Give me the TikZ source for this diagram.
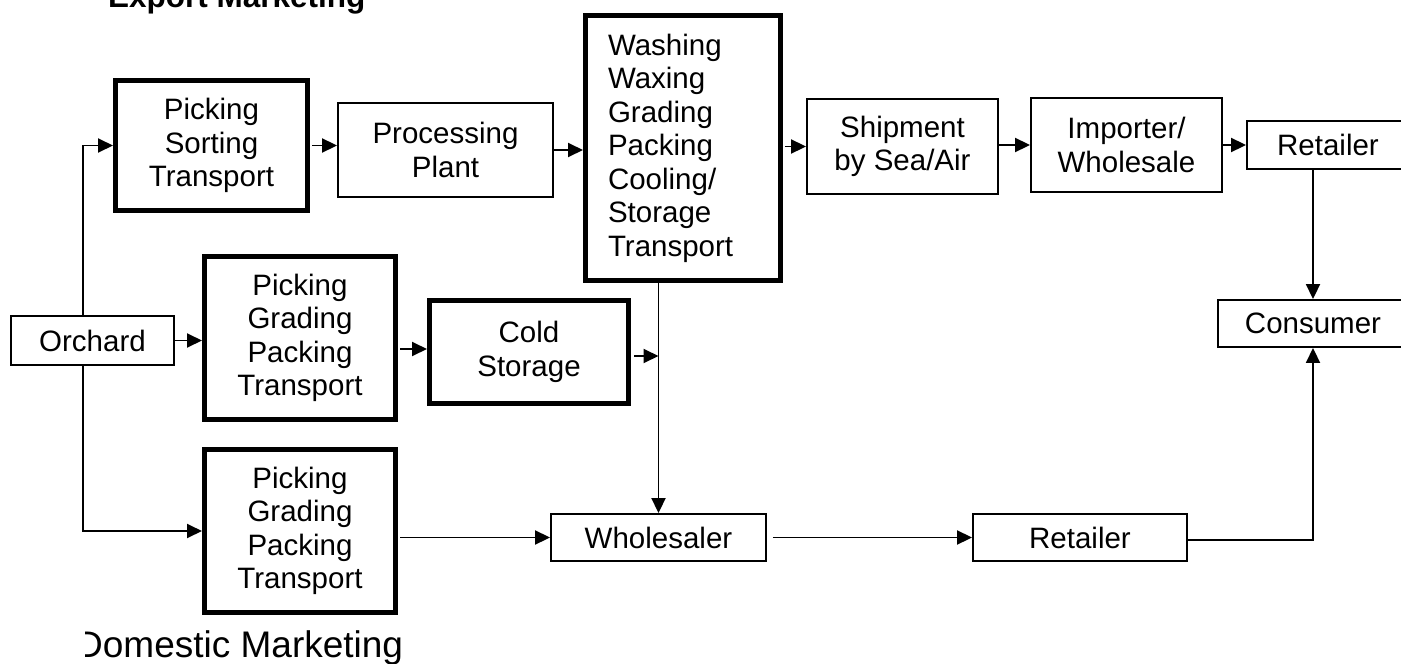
\documentclass[tikz,border=0pt]{standalone}
\usepackage{fontspec}
\setmainfont{Liberation Sans}
\usetikzlibrary{arrows.meta}
\begin{document}
\begin{tikzpicture}[x=1pt,y=-1pt,
  txt/.style={font=\fontsize{29.5}{33.5}\selectfont},
  thinbox/.style={draw, line width=1.9pt, inner sep=0pt, align=center, txt},
  thickbox/.style={draw, line width=5pt, inner sep=0pt, align=center, txt},
  arr/.style={line width=1.9pt, -{Triangle[length=15pt,width=14pt]}},
  ln/.style={line width=1.9pt}]
\useasboundingbox (0,0) rectangle (1401,664);
\clip (0,0) rectangle (1401,664);

% titles
\node[anchor=base west, inner sep=0pt, font=\fontsize{31.5}{36}\selectfont\bfseries] (title) at (108,7) {Export Marketing};
\begin{scope}
  \clip (85,600) rectangle (700,664);
  \node[anchor=base west, inner sep=0pt, font=\fontsize{37}{42}\selectfont] (dom) at (76,657) {Domestic Marketing};
\end{scope}

% nodes
\node[thinbox, minimum width=163pt, minimum height=49pt] (orch) at (92.5,340.5) {Orchard};
\node[thickbox, minimum width=192pt, minimum height=130pt] (pst) at (211.5,145.5) {Picking\\Sorting\\Transport};
\node[thinbox, minimum width=215pt, minimum height=94pt] (proc) at (445.5,150) {Processing\\Plant};
\node[thickbox, minimum width=195pt, minimum height=265pt, text width=150pt, inner xsep=22.5pt, align=left] (wash) at (683,148)
  {Washing\\Waxing\\Grading\\Packing\\Cooling/\\Storage\\Transport};
\node[thinbox, minimum width=191pt, minimum height=95pt] (ship) at (902.5,146.5) {Shipment\\by Sea/Air};
\node[thinbox, minimum width=191pt, minimum height=94pt] (imp) at (1126.5,145) {Importer/\\Wholesale};
\node[thinbox, minimum width=162pt, minimum height=48pt] (ret1) at (1328,145) {Retailer};
\node[thinbox, minimum width=190pt, minimum height=47pt] (cons) at (1313,323.5) {Consumer};
\node[thickbox, minimum width=191pt, minimum height=163pt] (pgp1) at (300,338) {Picking\\Grading\\Packing\\Transport};
\node[thickbox, minimum width=199pt, minimum height=103pt] (cold) at (529,352) {Cold\\Storage};
\node[thickbox, minimum width=191pt, minimum height=163pt] (pgp2) at (300,531) {Picking\\Grading\\Packing\\Transport};
\node[thinbox, minimum width=215pt, minimum height=47pt] (whole) at (658.5,537.5) {Wholesaler};
\node[thinbox, minimum width=214pt, minimum height=47pt] (ret2) at (1080,537.5) {Retailer};

% connectors
\draw[arr] ([xshift=-9.5pt]orch.north) |- (pst.west);
\draw[arr] ([xshift=-9.5pt]orch.south) |- (pgp2.west);
\draw[arr] (orch.east) -- (orch.east -| pgp1.west);
\draw[arr] ([xshift=2pt]pst.east) -- (pst.east -| proc.west);
\draw[arr] (proc.east) -- (proc.east -| wash.west);
\draw[arr] ([xshift=2pt,yshift=3pt]pgp1.east |- cold.west) -- ([yshift=3pt]cold.west);
\draw[arr] ([shift={(3pt,-4pt)}]cold.east) -- ([yshift=-4pt]cold.east -| whole.north);
\draw[arr] (wash.south -| whole.north) -- (whole.north);
\draw[arr] ([xshift=2pt]wash.east |- ship.west) -- (ship.west);
\draw[arr] (ship.east |- imp.west) -- (imp.west);
\draw[arr] (imp.east |- ret1.west) -- (ret1.west);
\draw[arr] (ret1.south -| cons.north) -- (cons.north);
\draw[arr] ([xshift=2pt]pgp2.east |- whole.west) -- (whole.west);
\draw[arr] ([xshift=6pt]whole.east) -- (ret2.west);
\draw[arr] ([yshift=-2.5pt]ret2.east) -| (cons.south);
\end{tikzpicture}
\end{document}
